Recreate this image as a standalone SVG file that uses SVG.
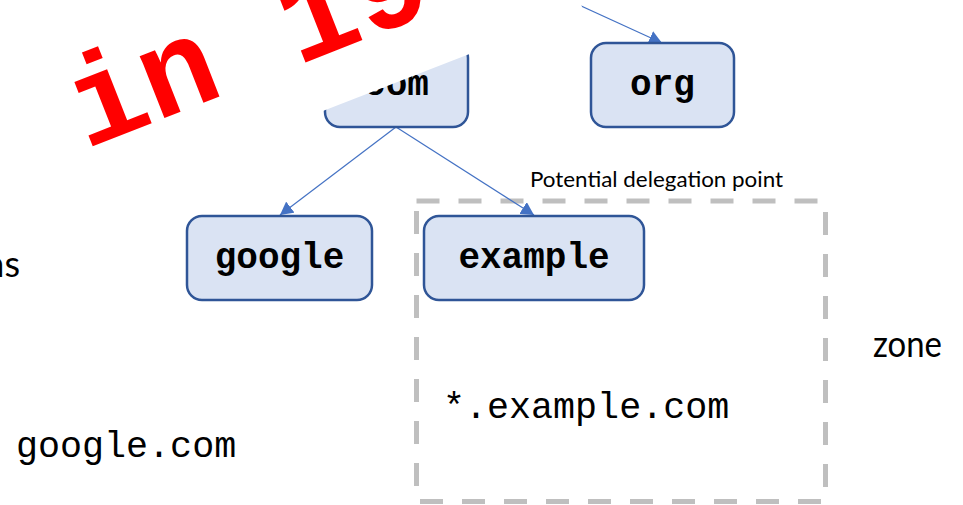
<svg xmlns="http://www.w3.org/2000/svg" width="963" height="505" viewBox="0 0 963 505">
  <style>
    .node rect { fill: #DAE3F3; stroke: #2F5597; stroke-width: 2.5; }
    .node text { font-family: "Liberation Mono", "Courier New", monospace; font-weight: bold; font-size: 36px; fill: #000; text-anchor: middle; }
    .edge { stroke: #4472C4; stroke-width: 1.2; fill: none; marker-end: url(#arrow); }
    .label { font-family: Lato, "Open Sans", sans-serif; fill: #000; }
    .mono { font-family: "Liberation Mono", "Courier New", monospace; font-size: 36.7px; fill: #000; }
  </style>
  <defs>
    <marker id="arrow" markerUnits="userSpaceOnUse" markerWidth="14" markerHeight="14" refX="13" refY="7" orient="auto">
      <path d="M0,0 L13,7 L0,14 z" fill="#4472C4"/>
    </marker>
  </defs>

  <rect width="963" height="505" fill="#fff"/>

  <!-- zone boundary -->
  <rect x="416.5" y="201" width="409" height="300.5" fill="none" stroke="#BFBFBF" stroke-width="5" stroke-dasharray="23 19"/>

  <!-- connectors -->
  <g id="connectors">
    <line class="edge" x1="396" y1="127" x2="280" y2="215"/>
    <line class="edge" x1="396" y1="127" x2="534" y2="215"/>
    <line class="edge" x1="568" y1="0" x2="662" y2="43"/>
  </g>

  <!-- nodes -->
  <g id="node-com" class="node">
    <rect x="325" y="43" width="143" height="84" rx="15"/>
    <text x="396.5" y="95">com</text>
  </g>
  <g id="node-org" class="node">
    <rect x="591" y="43" width="143" height="84" rx="15"/>
    <text x="662.5" y="95">org</text>
  </g>
  <g id="node-google" class="node">
    <rect x="187" y="216" width="185" height="84" rx="15"/>
    <text x="279.5" y="268">google</text>
  </g>
  <g id="node-example" class="node">
    <rect x="424" y="216" width="220" height="84" rx="15"/>
    <text x="534" y="268">example</text>
  </g>

  <!-- free labels -->
  <text class="label" x="530" y="187" font-size="21" textLength="253" lengthAdjust="spacingAndGlyphs">Potential delegation point</text>
  <text class="label" x="873" y="357" font-size="36" textLength="69" lengthAdjust="spacingAndGlyphs">zone</text>
  <text class="label" x="20" y="277" font-size="36" text-anchor="end">ns</text>
  <text class="mono" x="443" y="418">*.example.com</text>
  <text class="mono" x="16" y="457">google.com</text>

  <!-- stamp overlay: white backing band and red lettering -->
  <polygon points="-20,244 583,10 579,-2 -20,-2" fill="#fff"/>
  <text transform="translate(86,149) rotate(-21.5)" font-family="'Liberation Mono', 'Courier New', monospace" font-weight="bold" font-size="126" fill="#FF0000">in 19</text>
</svg>
